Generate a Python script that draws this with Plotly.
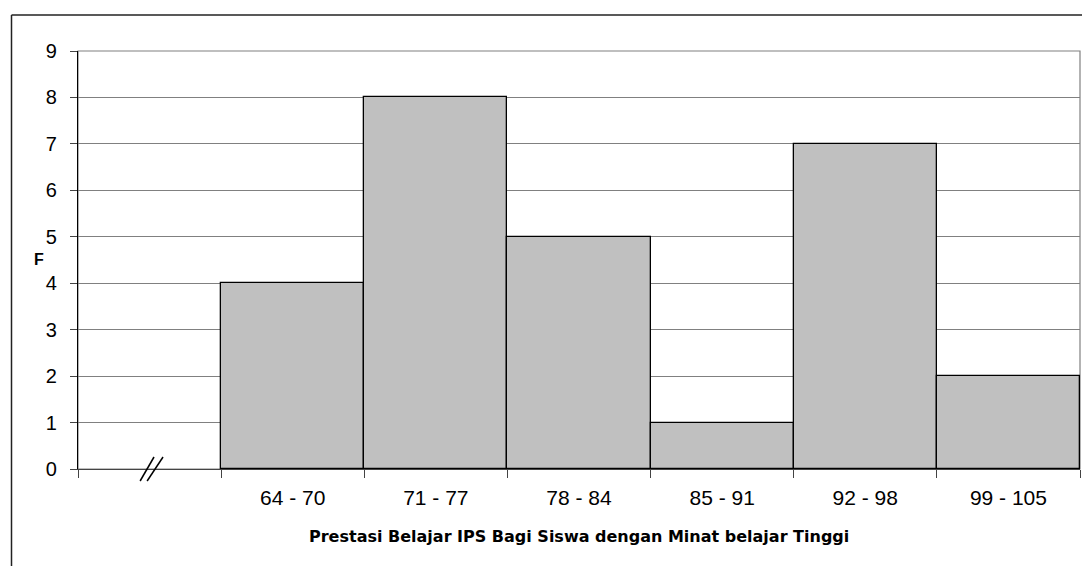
import plotly.graph_objects as go

categories = [" ", "64 - 70", "71 - 77", "78 - 84", "85 - 91", "92 - 98", "99 - 105"]
bar_categories = ["64 - 70", "71 - 77", "78 - 84", "85 - 91", "92 - 98", "99 - 105"]
frequencies = [4, 8, 5, 1, 7, 2]
y_ticks = [0, 1, 2, 3, 4, 5, 6, 7, 8, 9]

W, H = 1082, 566
L, R, T, B = 78, 2, 51, 97
pw, ph = W - L - R, H - T - B

def px_x(px):
    return (px - L) / pw

def px_y(py):
    return (H - B - py) / ph

fig = go.Figure()
fig.add_trace(go.Bar(
    x=bar_categories, y=frequencies,
    marker=dict(color="#C0C0C0", line=dict(color="#000000", width=1.3)),
    width=1.0, hoverinfo="x+y",
))

shapes = []
# plot-area border (grey)
shapes.append(dict(type="rect", xref="paper", yref="paper", x0=0, x1=1, y0=0, y1=1,
                   line=dict(color="#808080", width=1.2), layer="below"))
# outer chart border (left and top, runs off the page)
shapes.append(dict(type="line", xref="paper", yref="paper",
                   x0=px_x(11.5), x1=px_x(11.5), y0=px_y(15), y1=px_y(600),
                   line=dict(color="#222222", width=1.5)))
shapes.append(dict(type="line", xref="paper", yref="paper",
                   x0=px_x(11.5), x1=px_x(1100), y0=px_y(15), y1=px_y(15),
                   line=dict(color="#222222", width=1.5)))
# axis break mark "//" in the empty first slot
for dx0, dx1 in [(-0.066, 0.031), (-0.017, 0.094)]:
    shapes.append(dict(type="line", xref="x", yref="paper",
                       x0=dx0, x1=dx1, y0=px_y(481), y1=px_y(457),
                       line=dict(color="#000000", width=1.5)))

fig.update_layout(
    width=W, height=H,
    margin=dict(l=L, r=R, t=T, b=B, pad=0),
    paper_bgcolor="white", plot_bgcolor="white",
    showlegend=False, bargap=0,
    font=dict(family="Liberation Sans, Arial, sans-serif", color="#000000"),
    shapes=shapes,
    xaxis=dict(
        type="category", categoryorder="array", categoryarray=categories,
        range=[-0.5, len(categories) - 0.5],
        tickson="boundaries", ticks="outside", ticklen=8, tickcolor="#444444",
        tickwidth=1, showgrid=False, showline=True, linecolor="#444444", linewidth=1.2,
        tickfont=dict(size=21), ticklabelstandoff=10, zeroline=False,
    ),
    yaxis=dict(
        range=[0, 9], tickvals=y_ticks, ticks="outside", ticklen=7,
        tickcolor="#444444", showgrid=True, gridcolor="#808080", gridwidth=1.2,
        showline=True, linecolor="#000000", linewidth=1.2, zeroline=False,
        tickfont=dict(size=20), ticklabelstandoff=9,
    ),
    annotations=[
        dict(text="<b>F</b>", xref="paper", yref="paper", x=px_x(38.5), y=px_y(259),
             showarrow=False, font=dict(size=16), xanchor="center", yanchor="middle"),
        dict(text="<b>Prestasi Belajar IPS Bagi Siswa dengan Minat belajar Tinggi</b>",
             xref="paper", yref="paper", x=px_x(578.5), y=px_y(536),
             showarrow=False, font=dict(size=16, family="DejaVu Sans, sans-serif"),
             xanchor="center", yanchor="middle"),
    ],
)

fig.write_html("out.html")
